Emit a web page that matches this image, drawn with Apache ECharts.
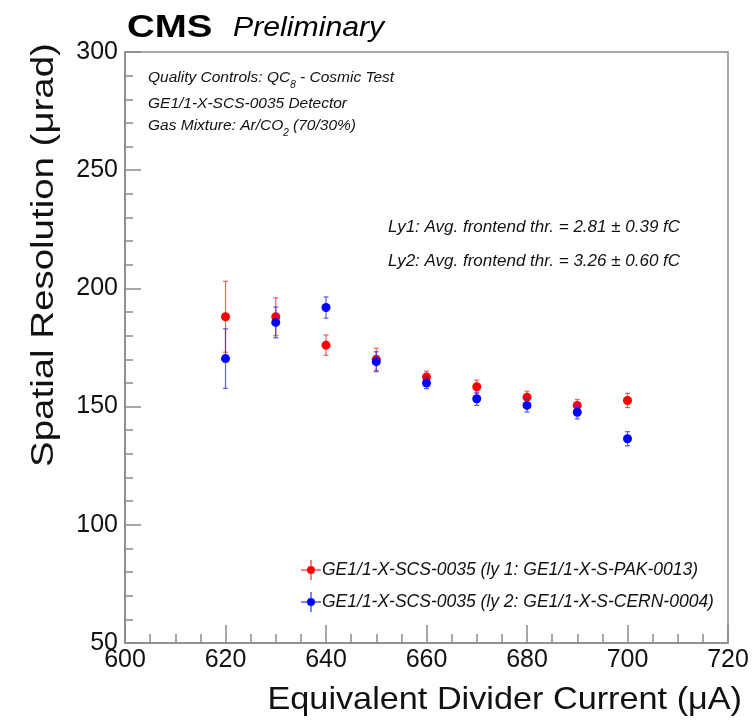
<!DOCTYPE html>
<html>
<head>
<meta charset="utf-8">
<script src="https://cdn.jsdelivr.net/npm/echarts@6/dist/echarts.min.js"></script>
<style>
  html, body { margin: 0; padding: 0; background: #fff; }
  #chart { width: 753px; height: 721px; }
</style>
</head>
<body>
<div id="chart"></div>
<script>
// equivalent divider current (uA)
const currents = [620, 630, 640, 650, 660, 670, 680, 690, 700];
// layer 1 (red) resolution and error
const ly1Res = [188, 188, 176, 170, 162.5, 158.4, 154, 150.5, 152.6];
const ly1Err = [15, 8, 4.3, 4.7, 2.5, 2.8, 2.5, 2.5, 3];
// layer 2 (blue)
const ly2Res = [170.3, 185.6, 191.9, 169, 160, 153.3, 150.5, 147.6, 136.4];
const ly2Err = [12.6, 6.5, 4.5, 4.2, 2.4, 2.8, 2.8, 2.8, 3];

const ly1Name = 'GE1/1-X-SCS-0035 (ly 1: GE1/1-X-S-PAK-0013)';
const ly2Name = 'GE1/1-X-SCS-0035 (ly 2: GE1/1-X-S-CERN-0004)';

const FONT = '"Liberation Sans", Arial, Helvetica, sans-serif';
const AXIS_GRAY = '#8a8a8a';

// error bar + marker
function errorBar(color, barColor) {
  return function (params, api) {
    const x = api.value(0), y = api.value(1), e = api.value(2);
    const c = api.coord([x, y]);
    const hi = api.coord([x, y + e]);
    const lo = api.coord([x, y - e]);
    const lineStyle = { stroke: barColor, lineWidth: 1.2 };
    return {
      type: 'group',
      children: [
        { type: 'line', shape: { x1: c[0], y1: hi[1], x2: c[0], y2: lo[1] }, style: lineStyle },
        { type: 'line', shape: { x1: c[0] - 2.5, y1: hi[1], x2: c[0] + 2.5, y2: hi[1] }, style: lineStyle },
        { type: 'line', shape: { x1: c[0] - 2.5, y1: lo[1], x2: c[0] + 2.5, y2: lo[1] }, style: lineStyle },
        { type: 'circle', shape: { cx: c[0], cy: c[1], r: 4.5 }, style: { fill: color } }
      ]
    };
  };
}

const chart = echarts.init(document.getElementById('chart'));

const legendIcon = 'path://M0,9.5 L20,9.5 L20,10.5 L0,10.5 Z M9.5,0 L10.5,0 L10.5,20 L9.5,20 Z M10,6 A4,4 0 1,1 9.99,6 Z';

const subRich = {
  i: { font: 'italic 15.5px ' + FONT, fill: '#111', lineHeight: 24, verticalAlign: 'middle' },
  s: { font: 'italic 10px ' + FONT, fill: '#111', lineHeight: 24, verticalAlign: 'bottom' }
};

const option = {
  backgroundColor: '#fff',
  animation: false,
  textStyle: { fontFamily: FONT },
  grid: {
    left: 125, right: 25, top: 52, bottom: 78,
    show: true, borderColor: AXIS_GRAY, borderWidth: 1.5
  },
  xAxis: {
    type: 'value',
    min: 600, max: 720, interval: 20,
    axisLine: { show: true, lineStyle: { color: AXIS_GRAY, width: 1.5 } },
    axisTick: { show: true, inside: true, length: 18, lineStyle: { color: AXIS_GRAY, width: 1.5 } },
    minorTick: { show: true, splitNumber: 4, length: 9, lineStyle: { color: AXIS_GRAY, width: 1.5 } },
    splitLine: { show: false },
    axisLabel: { color: '#111', fontSize: 25, margin: 5, fontFamily: FONT }
  },
  yAxis: {
    type: 'value',
    min: 50, max: 300, interval: 50,
    axisLine: { show: true, lineStyle: { color: AXIS_GRAY, width: 1.5 } },
    axisTick: { show: true, inside: true, length: 16, lineStyle: { color: AXIS_GRAY, width: 1.5 } },
    minorTick: { show: true, splitNumber: 5, length: 8, lineStyle: { color: AXIS_GRAY, width: 1.5 } },
    splitLine: { show: false },
    axisLabel: { color: '#111', fontSize: 25, margin: 7, fontFamily: FONT }
  },
  legend: {
    orient: 'vertical',
    left: 296, top: 555,
    itemWidth: 20, itemHeight: 20, itemGap: 12,
    icon: legendIcon,
    textStyle: { fontSize: 17.5, fontStyle: 'italic', color: '#111', fontFamily: FONT, padding: [0, 0, 0, -4] },
    data: [ly1Name, ly2Name]
  },
  graphic: [
    { type: 'text', left: 127, top: 13, scaleX: 1.24, style: { text: 'CMS', font: 'bold 31px ' + FONT, fill: '#000' } },
    { type: 'text', left: 233, top: 15, scaleX: 1.12, style: { text: 'Preliminary', font: 'italic 27px ' + FONT, fill: '#000' } },
    {
      type: 'text', left: 148, top: 70,
      style: { text: '{i|Quality Controls: QC}{s|8}{i| - Cosmic Test}', rich: subRich }
    },
    { type: 'text', left: 148, top: 96, style: { text: 'GE1/1-X-SCS-0035 Detector', font: 'italic 15.5px ' + FONT, fill: '#111' } },
    {
      type: 'text', left: 148, top: 118,
      style: { text: '{i|Gas Mixture: Ar/CO}{s|2}{i| (70/30%)}', rich: subRich }
    },
    { type: 'text', left: 388, top: 219, style: { text: 'Ly1: Avg. frontend thr. = 2.81 \u00b1 0.39 fC', font: 'italic 17px ' + FONT, fill: '#111' } },
    { type: 'text', left: 388, top: 253, style: { text: 'Ly2: Avg. frontend thr. = 3.26 \u00b1 0.60 fC', font: 'italic 17px ' + FONT, fill: '#111' } },
    {
      type: 'text', x: 44, y: 255, rotation: Math.PI / 2, scaleX: 1.24,
      style: { text: 'Spatial Resolution (\u03bcrad)', font: '31px ' + FONT, fill: '#111', align: 'center', verticalAlign: 'middle' }
    },
    {
      type: 'text', x: 742, y: 700, scaleX: 1.07,
      style: { text: 'Equivalent Divider Current (\u03bcA)', font: '32px ' + FONT, fill: '#111', align: 'right', verticalAlign: 'middle' }
    }
  ],
  series: [
    {
      name: ly1Name,
      type: 'custom',
      itemStyle: { color: '#ff0000' },
      renderItem: errorBar('#ff0000', 'rgba(255,40,40,0.75)'),
      encode: { x: 0, y: 1 },
      data: currents.map((c, i) => [c, ly1Res[i], ly1Err[i]]),
      z: 3
    },
    {
      name: ly2Name,
      type: 'custom',
      itemStyle: { color: '#0000ff' },
      renderItem: errorBar('#0000ff', 'rgba(40,40,255,0.75)'),
      encode: { x: 0, y: 1 },
      data: currents.map((c, i) => [c, ly2Res[i], ly2Err[i]]),
      z: 4
    }
  ]
};

chart.setOption(option);
</script>
</body>
</html>
